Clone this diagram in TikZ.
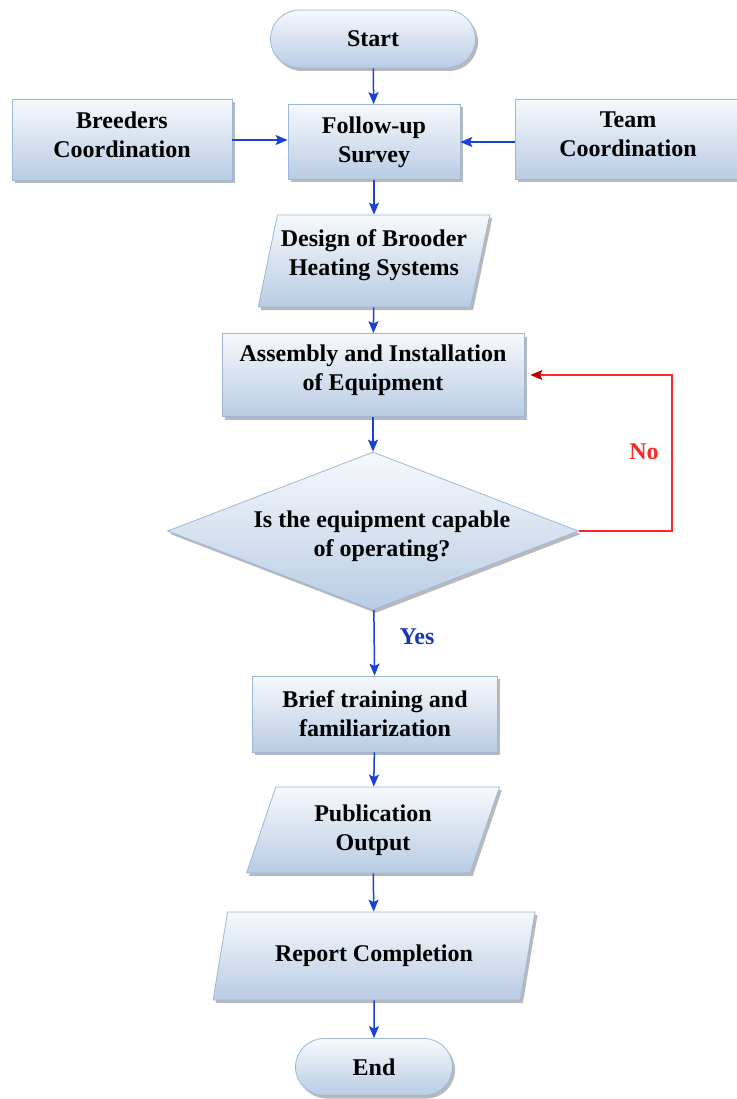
\documentclass[tikz,border=0pt]{standalone}
\usepackage{fontspec}
\setmainfont{Liberation Serif}
\usetikzlibrary{shapes.geometric}
\usetikzlibrary{shapes.misc}
\usetikzlibrary{shadows}
\usetikzlibrary{arrows.meta}

\definecolor{boxtop}{RGB}{247,249,252}
\definecolor{boxbot}{RGB}{184,204,228}
\definecolor{boxline}{RGB}{155,183,218}
\definecolor{flowblue}{RGB}{26,64,214}
\definecolor{nored}{RGB}{250,40,40}
\definecolor{nodark}{RGB}{190,0,0}

\tikzset{
  flowbox/.style={draw=boxline, line width=0.8pt, top color=boxtop, bottom color=boxbot,
    drop shadow={shadow xshift=2.5pt, shadow yshift=-3pt, fill=black!50, opacity=0.55},
    align=center, inner sep=0pt, font=\fontsize{24}{29}\selectfont\bfseries},
  procbox/.style={flowbox, rectangle},
  termbox/.style={flowbox, rounded rectangle},
  iobox/.style={flowbox, trapezium, trapezium stretches=true},
  decbox/.style={flowbox, diamond, aspect=2.6, inner ysep=-8pt},
  flowarrow/.style={draw=flowblue, line width=1.5pt, -{Stealth[length=12pt,width=10pt,inset=2.5pt]}},
  noarrow/.style={draw=nored, line width=1.2pt, -{Stealth[length=12pt,width=10pt,inset=2.5pt,color=nodark]}},
  branchlabel/.style={font=\fontsize{24}{28}\selectfont\bfseries}
}

\begin{document}
\begin{tikzpicture}[x=1pt,y=1pt,yscale=-1,xscale=1]
\useasboundingbox (0,0) rectangle (736,1099);

%Shape: Terminal
\node [termbox, minimum width=205, minimum height=58] (start) at (373,39) {Start};
%Shape: Rectangle
\node [procbox, minimum width=220, minimum height=81, text depth=10pt] (breeders) at (122,140) {Breeders\\Coordination};
%Shape: Rectangle
\node [procbox, minimum width=172, minimum height=75] (survey) at (374,142) {Follow-up\\Survey};
%Shape: Rectangle
\node [procbox, minimum width=226, minimum height=80, text depth=10pt] (team) at (628,139) {Team\\Coordination};
%Shape: Parallelogram
\node [iobox, minimum width=232, minimum height=92, text depth=17pt, trapezium left angle=73.6, trapezium right angle=106.4] (design) at (374,261) {Design of Brooder\\Heating Systems};
%Shape: Rectangle
\node [procbox, minimum width=302, minimum height=83, text depth=14pt] (assembly) at (373,375) {Assembly and Installation\\of Equipment};
%Shape: Diamond
\node [decbox, minimum width=411, minimum height=158, text height=56pt] (check) at (373,531) {\hspace*{18pt}Is the equipment capable\\\hspace*{18pt}of operating?};
%Shape: Rectangle
\node [procbox, minimum width=245, minimum height=76] (brief) at (375,714) {Brief training and\\familiarization};
%Shape: Parallelogram
\node [iobox, minimum width=253, minimum height=86, trapezium left angle=70.8, trapezium right angle=109.2] (publication) at (373,830) {Publication\\Output};
%Shape: Parallelogram
\node [iobox, minimum width=322, minimum height=88, trapezium left angle=65.6, trapezium right angle=114.4] (report) at (374,956) {Report Completion};
%Shape: Terminal
\node [termbox, minimum width=157, minimum height=57] (end) at (374,1067) {End};

%Straight Lines
\draw [flowarrow] (start) -- (survey);
\draw [flowarrow] (breeders.east) -- (breeders.east -| survey.west);
\draw [flowarrow] (team.west |- survey.west) -- (survey.east);
\draw [flowarrow] (survey) -- (design);
\draw [flowarrow] (design) -- (assembly);
\draw [flowarrow] (assembly) -- (check);
\draw [flowarrow] (check) -- (brief);
\draw [flowarrow] (brief) -- (publication);
\draw [flowarrow] (publication) -- (report);
\draw [flowarrow] (report) -- (end);
%Loop back
\coordinate (loop) at (672,375);
\draw [noarrow] (check.east) -| (loop) -- ([xshift=6pt]assembly.east);

% Text Node
\node [branchlabel, text=flowblue!85!black] (yes) at (417,637) {Yes};
% Text Node
\node [branchlabel, text=nored] (no) at (644,452) {No};

\end{tikzpicture}
\end{document}
